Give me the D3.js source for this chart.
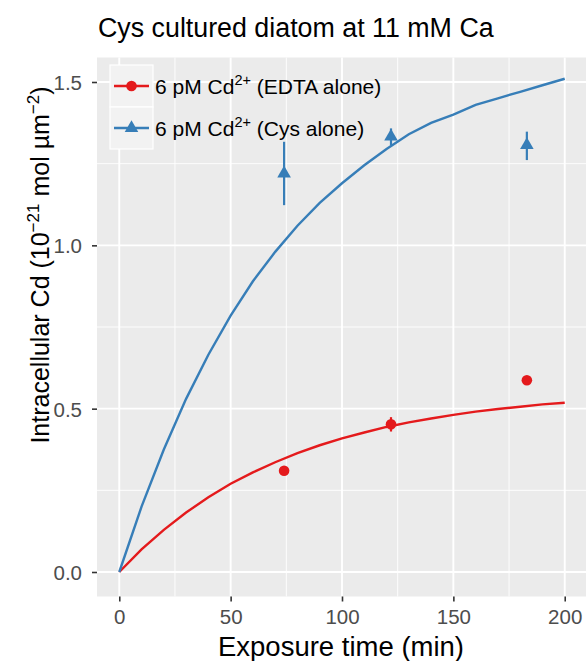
<!DOCTYPE html>
<html>
<head>
<meta charset="utf-8">
<script src="https://cdn.jsdelivr.net/npm/d3@7"></script>
<style>
body { margin: 0; background: #fff; }
text { font-family: "Liberation Sans", Arial, sans-serif; }
</style>
</head>
<body>
<div class="chart"></div>
<script>
// model curves (min vs 10^-21 mol um^-2)
const fitTime = [0, 10, 20, 30, 40, 50, 60, 70, 80, 90, 100, 110, 120, 130, 140, 150, 160, 170, 180, 190, 200];
const edtaFit = [0, 0.069, 0.129, 0.182, 0.229, 0.270, 0.305, 0.336, 0.364, 0.388, 0.409, 0.427, 0.444, 0.458, 0.470, 0.481, 0.491, 0.499, 0.506, 0.513, 0.518];
const cysFit = [0, 0.20, 0.375, 0.53, 0.665, 0.785, 0.89, 0.98, 1.06, 1.13, 1.19, 1.245, 1.295, 1.34, 1.375, 1.40, 1.43, 1.45, 1.47, 1.49, 1.51];

// measured points
const obsTime = [74, 122, 183];
const edtaObs = [0.31, 0.452, 0.587];
const edtaLow = [0.305, 0.43, 0.582];
const edtaHigh = [0.315, 0.474, 0.592];
const cysObs = [1.22, 1.333, 1.307];
const cysLow = [1.123, 1.307, 1.261];
const cysHigh = [1.317, 1.358, 1.348];

const xTicks = [0, 50, 100, 150, 200];
const xMinor = [25, 75, 125, 175];
const yTicks = [0, 0.5, 1.0, 1.5];
const yMinor = [0.25, 0.75, 1.25];

const seriesNames = ["EDTA alone", "Cys alone"];
const colors = ["#E41A1C", "#377EB8"];

const W = 586, H = 661;
const panel = {left: 97, right: 587, top: 57.5, bottom: 596.5};

const svg = d3.select(".chart")
    .append("svg")
    .attr("width", W)
    .attr("height", H);

const x = d3.scaleLinear()
    .domain([-10, 210])
    .range([panel.left, panel.right]);

const y = d3.scaleLinear()
    .domain([-0.075, 1.575])
    .range([panel.bottom, panel.top]);

// panel background
svg.append("rect")
    .attr("x", panel.left)
    .attr("y", panel.top)
    .attr("width", panel.right - panel.left)
    .attr("height", panel.bottom - panel.top)
    .attr("fill", "#EBEBEB");

// grid
svg.append("g").selectAll("line")
    .data(xMinor)
    .enter().append("line")
    .attr("x1", d => x(d)).attr("x2", d => x(d))
    .attr("y1", panel.top).attr("y2", panel.bottom)
    .attr("stroke", "#fff").attr("stroke-width", 0.9);
svg.append("g").selectAll("line")
    .data(yMinor)
    .enter().append("line")
    .attr("y1", d => y(d)).attr("y2", d => y(d))
    .attr("x1", panel.left).attr("x2", panel.right)
    .attr("stroke", "#fff").attr("stroke-width", 0.9);
svg.append("g").selectAll("line")
    .data(xTicks)
    .enter().append("line")
    .attr("x1", d => x(d)).attr("x2", d => x(d))
    .attr("y1", panel.top).attr("y2", panel.bottom)
    .attr("stroke", "#fff").attr("stroke-width", 1.9);
svg.append("g").selectAll("line")
    .data(yTicks)
    .enter().append("line")
    .attr("y1", d => y(d)).attr("y2", d => y(d))
    .attr("x1", panel.left).attr("x2", panel.right)
    .attr("stroke", "#fff").attr("stroke-width", 1.9);

// fitted curves
const line = d3.line()
    .x(d => x(d[0]))
    .y(d => y(d[1]));

[edtaFit, cysFit].forEach((vals, i) => {
    svg.append("path")
        .datum(fitTime.map((t, j) => [t, vals[j]]))
        .attr("d", line)
        .attr("fill", "none")
        .attr("stroke", colors[i])
        .attr("stroke-width", 2.4);
});

// error bars
const obs = [
    obsTime.map((t, j) => ({t: t, v: edtaObs[j], lo: edtaLow[j], hi: edtaHigh[j]})),
    obsTime.map((t, j) => ({t: t, v: cysObs[j], lo: cysLow[j], hi: cysHigh[j]}))
];

obs.forEach((pts, i) => {
    svg.append("g").selectAll("line")
        .data(pts)
        .enter().append("line")
        .attr("x1", d => x(d.t)).attr("x2", d => x(d.t))
        .attr("y1", d => y(d.lo)).attr("y2", d => y(d.hi))
        .attr("stroke", colors[i])
        .attr("stroke-width", 2.2);
});

// points
svg.append("g").selectAll("circle")
    .data(obs[0])
    .enter().append("circle")
    .attr("cx", d => x(d.t))
    .attr("cy", d => y(d.v))
    .attr("r", 5.3)
    .attr("fill", colors[0]);

const tri = d3.symbol().type(d3.symbolTriangle).size(80);
svg.append("g").selectAll("path")
    .data(obs[1])
    .enter().append("path")
    .attr("d", tri)
    .attr("transform", d => "translate(" + x(d.t) + "," + y(d.v) + ")")
    .attr("fill", colors[1]);

// axes
const xAxis = d3.axisBottom(x)
    .tickValues(xTicks)
    .tickSize(5)
    .tickPadding(8)
    .tickSizeOuter(0);
const yAxis = d3.axisLeft(y)
    .tickValues(yTicks)
    .tickFormat(d3.format(".1f"))
    .tickSize(5)
    .tickPadding(10)
    .tickSizeOuter(0);

const gx = svg.append("g")
    .attr("transform", "translate(0," + panel.bottom + ")")
    .call(xAxis);
const gy = svg.append("g")
    .attr("transform", "translate(" + panel.left + ",0)")
    .call(yAxis);

[gx, gy].forEach(g => {
    g.select(".domain").remove();
    g.selectAll(".tick line").attr("stroke", "#333").attr("stroke-width", 1.6);
    g.selectAll(".tick text")
        .attr("fill", "#4D4D4D")
        .style("font-size", "20.5px");
});
gy.selectAll(".tick text").attr("dy", "0.36em");

// titles
svg.append("text")
    .attr("x", 98)
    .attr("y", 37)
    .style("font-size", "26.8px")
    .attr("fill", "#000")
    .text("Cys cultured diatom at 11 mM Ca");

svg.append("text")
    .attr("x", (panel.left + panel.right) / 2 - 1)
    .attr("y", 656)
    .attr("text-anchor", "middle")
    .style("font-size", "27.5px")
    .text("Exposure time (min)");

const yt = svg.append("text")
    .attr("transform", "translate(49,265) rotate(-90)")
    .attr("text-anchor", "middle")
    .style("font-size", "25px");
yt.append("tspan").text("Intracellular Cd (10");
yt.append("tspan").attr("dy", -10).style("font-size", "17px").text("\u221221");
yt.append("tspan").attr("dy", 10).text(" mol \u00B5m");
yt.append("tspan").attr("dy", -10).style("font-size", "17px").text("\u22122");
yt.append("tspan").attr("dy", 10).text(")");

// legend
const keyX = 110, keyTop = 65, keyW = 43, keyH = 42;
const legend = svg.append("g");

legend.selectAll("rect")
    .data(seriesNames)
    .enter().append("rect")
    .attr("x", keyX)
    .attr("y", (d, i) => keyTop + i * keyH)
    .attr("width", keyW)
    .attr("height", keyH)
    .attr("fill", "#F2F2F2")
    .attr("stroke", "#fff")
    .attr("stroke-width", 1.2);

legend.selectAll("line")
    .data(seriesNames)
    .enter().append("line")
    .attr("x1", keyX + 4).attr("x2", keyX + keyW - 4)
    .attr("y1", (d, i) => keyTop + i * keyH + keyH / 2)
    .attr("y2", (d, i) => keyTop + i * keyH + keyH / 2)
    .attr("stroke", (d, i) => colors[i])
    .attr("stroke-width", 2.4);

legend.append("circle")
    .attr("cx", keyX + keyW / 2)
    .attr("cy", keyTop + keyH / 2)
    .attr("r", 5.3)
    .attr("fill", colors[0]);

legend.append("path")
    .attr("d", tri)
    .attr("transform", "translate(" + (keyX + keyW / 2) + "," + (keyTop + keyH + keyH / 2) + ")")
    .attr("fill", colors[1]);

seriesNames.forEach((name, i) => {
    const t = legend.append("text")
        .attr("x", keyX + keyW + 2)
        .attr("y", keyTop + i * keyH + keyH / 2 + 7.5)
        .style("font-size", "21px");
    t.append("tspan").text("6 pM Cd");
    t.append("tspan").attr("dy", -9).style("font-size", "14.5px").text("2+");
    t.append("tspan").attr("dy", 9).text(" (" + name + ")");
});
</script>
</body>
</html>
